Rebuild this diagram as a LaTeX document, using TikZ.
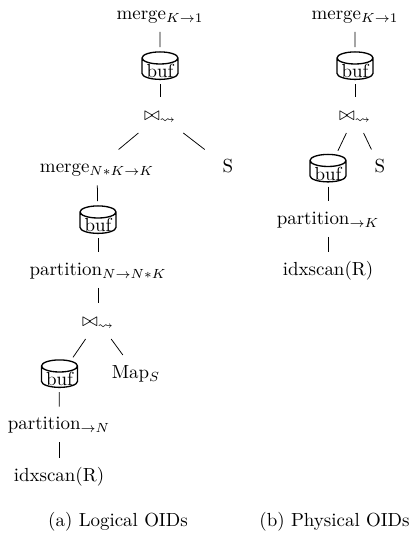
\documentclass[tikz,border=0pt]{standalone}
\usepackage{amssymb}
\usetikzlibrary{shapes.geometric}
\newcommand{\buflabel}{\raisebox{-3.2pt}{buf}}
\tikzset{
    bufdisk/.style={cylinder, shape border rotate=90, aspect=.45, draw, line width=.7pt,
        minimum width=19pt, minimum height=14.5pt, inner sep=0pt, outer sep=2.5pt,
        text height=3pt, text depth=0pt},
    opnode/.style={inner sep=0pt, outer sep=0pt, minimum height=19pt, minimum width=30pt,
        text height=7pt, text depth=1.2pt},
    opedge/.style={line width=.4pt}
}
\begin{document}
\begin{tikzpicture}[x=.528pt, y=-.528pt]
        \useasboundingbox (0,0) rectangle (411,535);
        % Piano a sinistra
        \node[opnode] (mergeA) at (160,14) {merge$_{K\rightarrow 1}$};
        \node[bufdisk] (bufA) at (160,69) {\buflabel};
        \node[opnode] (joinA) at (160,115) {$\bowtie_{\leadsto}$};
        \node[opnode] (mergeB) at (97,167.5) {merge$_{N*K\rightarrow K}$};
        \node[opnode] (sA) at (228,167.5) {S};
        \node[bufdisk] (bufB) at (98,223) {\buflabel};
        \node[opnode] (partA) at (98,270) {partition$_{N\rightarrow N*K}$};
        \node[opnode] (joinB) at (98,321) {$\bowtie_{\leadsto}$};
        \node[bufdisk] (bufC) at (59.5,377) {\buflabel};
        \node[opnode] (mapS) at (136,373) {Map$_{S}$};
        \node[opnode] (partB) at (59,424.5) {partition$_{\rightarrow N}$};
        \node[opnode] (scanA) at (59,476) {idxscan(R)};
        \node[opnode] (capA) at (118,521) {(a) Logical OIDs};
        \draw[opedge] (mergeA) -- (bufA);
        \draw[opedge] (bufA) -- (joinA);
        \draw[opedge] (joinA) -- (mergeB);
        \draw[opedge] (joinA) -- (sA);
        \draw[opedge] (mergeB) -- (bufB);
        \draw[opedge] (bufB) -- (partA);
        \draw[opedge] (partA) -- (joinB);
        \draw[opedge] (joinB) -- (bufC);
        \draw[opedge] (joinB) -- (mapS);
        \draw[opedge] (bufC) -- (partB);
        \draw[opedge] (partB) -- (scanA);
        % Piano a destra
        \node[opnode] (mergeC) at (355,14) {merge$_{K\rightarrow 1}$};
        \node[bufdisk] (bufD) at (355,69) {\buflabel};
        \node[opnode] (joinC) at (355,115) {$\bowtie_{\leadsto}$};
        \node[bufdisk] (bufE) at (328,171.5) {\buflabel};
        \node[opnode] (sB) at (380,167.5) {S};
        \node[opnode] (partC) at (328,219) {partition$_{\rightarrow K}$};
        \node[opnode] (scanB) at (328,270) {idxscan(R)};
        \node[opnode] (capB) at (334.5,521) {(b) Physical OIDs};
        \draw[opedge] (mergeC) -- (bufD);
        \draw[opedge] (bufD) -- (joinC);
        \draw[opedge] (joinC) -- (bufE);
        \draw[opedge] (joinC) -- (sB);
        \draw[opedge] (bufE) -- (partC);
        \draw[opedge] (partC) -- (scanB);
    \end{tikzpicture}
\end{document}
